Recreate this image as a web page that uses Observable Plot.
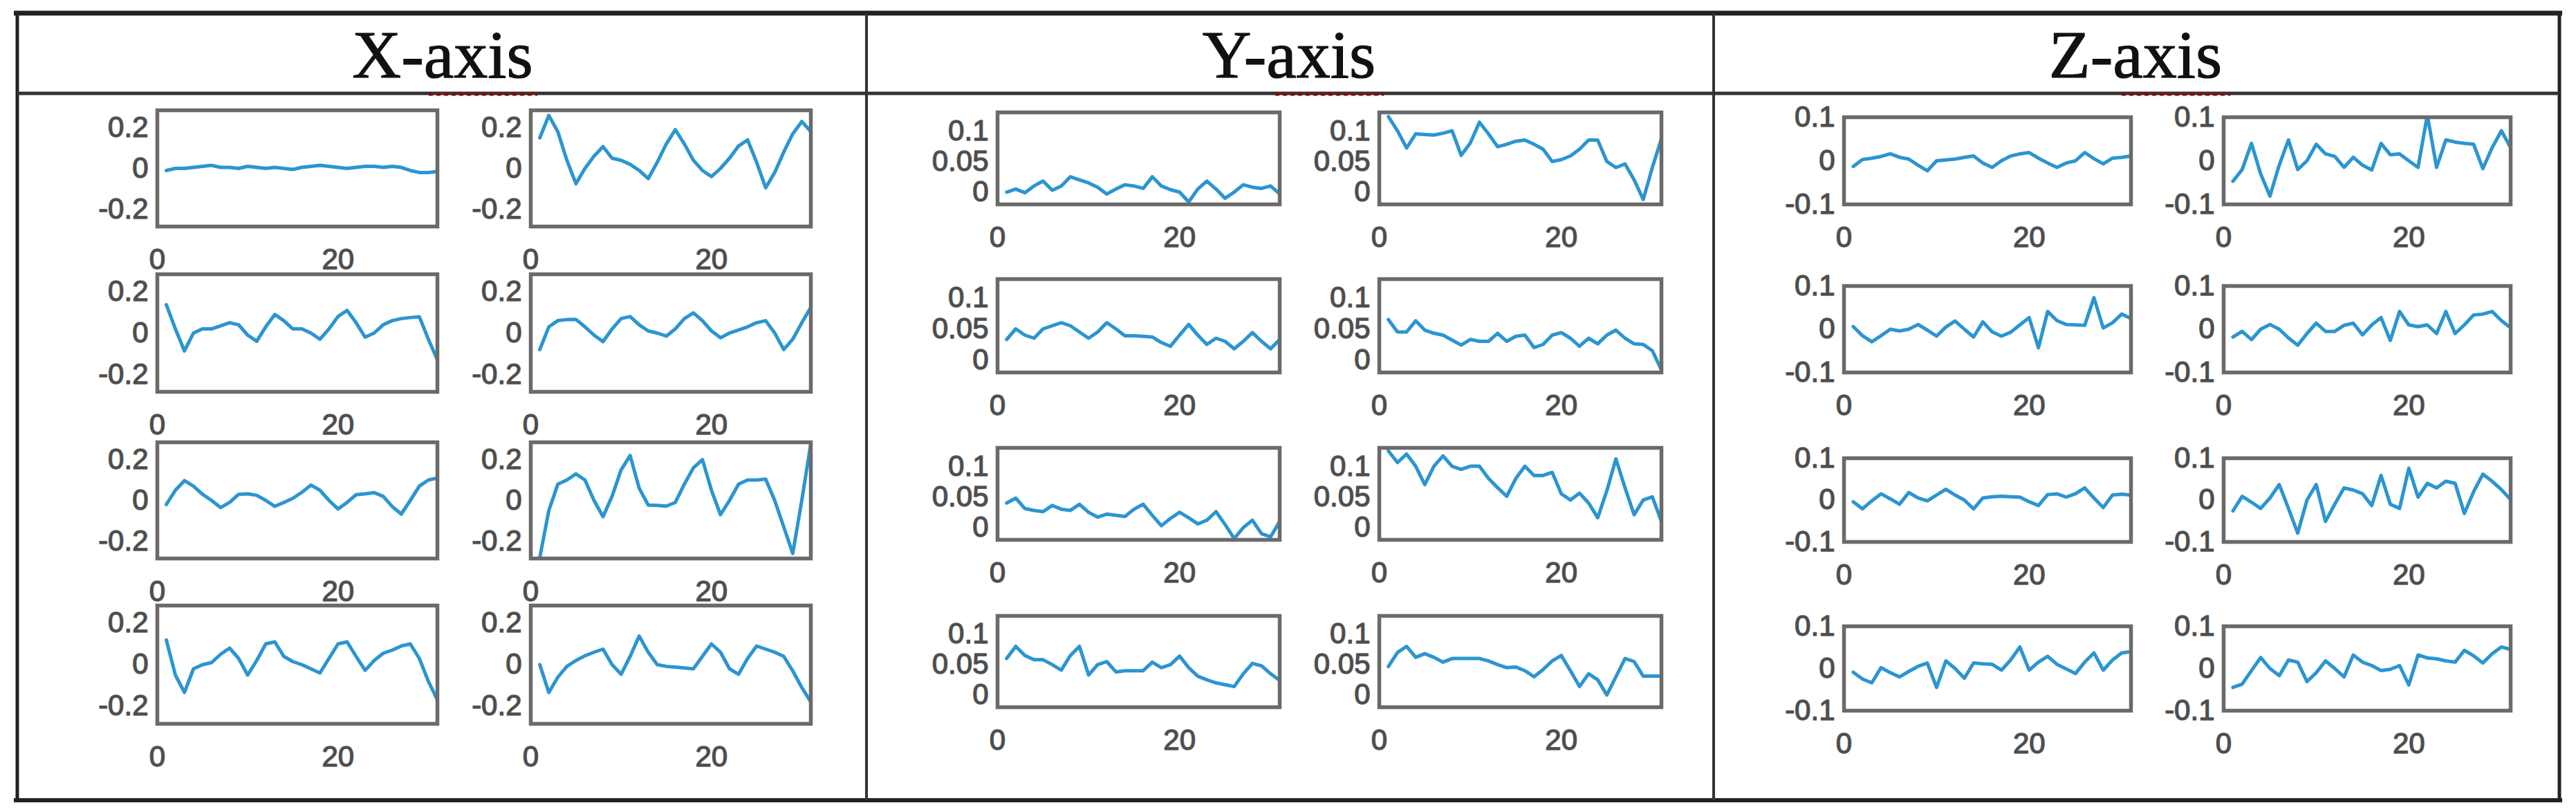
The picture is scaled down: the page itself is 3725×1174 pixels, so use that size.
<!DOCTYPE html>
<html>
<head>
<meta charset="utf-8">
<script src="https://cdn.jsdelivr.net/npm/d3@7"></script>
<script src="https://cdn.jsdelivr.net/npm/@observablehq/plot@0.6"></script>
<style>
  html, body { margin: 0; padding: 0; background: #fff; }
  #fig { position: relative; width: 3725px; height: 1174px; background: #fff; overflow: hidden; }
</style>
</head>
<body>
<div id="fig"></div>
<script>
// ---------------- data ----------------
const steps = [1,2,3,4,5,6,7,8,9,10,11,12,13,14,15,16,17,18,19,20,21,22,23,24,25,26,27,28,29,30,31];
const xTickValues = [0, 20];
const panelTitles = ["X-axis", "Y-axis", "Z-axis"];

const xAxisTicks = [-0.2, 0, 0.2];
const yAxisTicks = [0, 0.05, 0.1];
const zAxisTicks = [-0.1, 0, 0.1];

// X-axis panel (8 sub-plots, row by row, left then right)
const xSeries1 = [-0.01,0.0,0.0,0.005,0.01,0.015,0.005,0.005,0.0,0.01,0.005,0.0,0.005,0.0,-0.005,0.005,0.01,0.015,0.01,0.005,0.0,0.005,0.01,0.01,0.005,0.01,0.005,-0.01,-0.02,-0.02,-0.015];
const xSeries2 = [0.15,0.26,0.18,0.04,-0.075,0.0,0.06,0.107,0.05,0.04,0.02,-0.01,-0.05,0.03,0.12,0.19,0.12,0.04,-0.01,-0.04,0.0,0.05,0.11,0.14,0.03,-0.095,-0.02,0.08,0.17,0.23,0.18];
const xSeries3 = [0.137,0.02,-0.087,0.0,0.02,0.02,0.035,0.05,0.04,-0.01,-0.04,0.03,0.09,0.06,0.02,0.02,0.0,-0.03,0.02,0.08,0.11,0.05,-0.02,0.0,0.04,0.06,0.07,0.075,0.079,-0.03,-0.13];
const xSeries4 = [-0.08,0.03,0.06,0.065,0.066,0.03,-0.01,-0.042,0.02,0.07,0.08,0.04,0.01,0.0,-0.015,0.02,0.07,0.098,0.06,0.01,-0.023,0.0,0.015,0.03,0.05,0.06,0.0,-0.08,-0.03,0.05,0.124];
const xSeries5 = [-0.02,0.05,0.097,0.07,0.03,0.0,-0.035,-0.01,0.03,0.032,0.025,0.0,-0.029,-0.01,0.01,0.04,0.075,0.05,0.0,-0.042,-0.01,0.028,0.032,0.038,0.02,-0.03,-0.067,0.0,0.07,0.1,0.11];
const xSeries6 = [-0.28,-0.05,0.08,0.1,0.13,0.1,0.0,-0.08,0.02,0.15,0.22,0.06,-0.023,-0.025,-0.028,-0.01,0.08,0.16,0.2,0.05,-0.07,0.0,0.08,0.1,0.1,0.104,0.0,-0.13,-0.26,0.0,0.28];
const xSeries7 = [0.119,-0.05,-0.134,-0.02,0.0,0.01,0.05,0.08,0.03,-0.05,0.02,0.1,0.11,0.04,0.015,0.0,-0.02,-0.04,0.03,0.1,0.11,0.04,-0.027,0.02,0.055,0.07,0.09,0.1,0.03,-0.08,-0.17];
const xSeries8 = [0.0,-0.134,-0.06,-0.008,0.02,0.043,0.06,0.075,0.0,-0.046,0.04,0.138,0.06,0.0,-0.008,-0.012,-0.016,-0.02,0.04,0.1,0.06,-0.02,-0.046,0.03,0.09,0.075,0.06,0.04,-0.03,-0.11,-0.18];

// Y-axis panel
const ySeries1 = [0.0,0.005,-0.001,0.01,0.018,0.003,0.01,0.025,0.02,0.015,0.008,-0.003,0.005,0.012,0.01,0.006,0.025,0.01,0.004,0.0,-0.016,0.005,0.018,0.005,-0.01,0.0,0.012,0.008,0.006,0.01,-0.003];
const ySeries2 = [0.123,0.1,0.072,0.095,0.094,0.093,0.096,0.1,0.06,0.08,0.114,0.095,0.074,0.078,0.083,0.085,0.078,0.07,0.05,0.053,0.059,0.07,0.085,0.085,0.05,0.04,0.046,0.02,-0.012,0.04,0.087];
const ySeries3 = [0.033,0.05,0.04,0.035,0.05,0.055,0.06,0.055,0.045,0.035,0.045,0.06,0.05,0.039,0.039,0.038,0.037,0.028,0.022,0.04,0.057,0.04,0.025,0.035,0.03,0.018,0.03,0.044,0.03,0.018,0.033];
const ySeries4 = [0.065,0.045,0.045,0.063,0.048,0.043,0.04,0.032,0.024,0.033,0.03,0.03,0.043,0.03,0.038,0.04,0.02,0.025,0.04,0.044,0.035,0.022,0.035,0.026,0.04,0.048,0.035,0.026,0.025,0.015,-0.016];
const ySeries5 = [0.04,0.048,0.031,0.028,0.026,0.036,0.03,0.028,0.038,0.025,0.017,0.022,0.02,0.018,0.03,0.038,0.02,0.003,0.015,0.025,0.016,0.006,0.012,0.026,0.005,-0.018,0.0,0.012,-0.01,-0.015,0.01];
const ySeries6 = [0.125,0.106,0.12,0.1,0.07,0.1,0.117,0.1,0.095,0.1,0.1,0.08,0.065,0.051,0.08,0.1,0.085,0.085,0.09,0.055,0.045,0.056,0.04,0.016,0.06,0.112,0.065,0.021,0.045,0.05,0.01];
const ySeries7 = [0.06,0.08,0.065,0.058,0.058,0.05,0.041,0.065,0.08,0.033,0.05,0.055,0.038,0.04,0.04,0.04,0.054,0.045,0.05,0.064,0.045,0.031,0.025,0.02,0.017,0.014,0.035,0.052,0.048,0.035,0.024];
const ySeries8 = [0.047,0.07,0.08,0.062,0.068,0.062,0.054,0.06,0.06,0.06,0.06,0.056,0.05,0.045,0.046,0.04,0.03,0.042,0.056,0.065,0.04,0.014,0.035,0.025,0.0,0.03,0.06,0.055,0.031,0.031,0.031];

// Z-axis panel
const zSeries1 = [-0.013,0.003,0.006,0.01,0.016,0.008,0.004,-0.01,-0.023,0.0,0.002,0.004,0.008,0.011,-0.005,-0.015,0.0,0.011,0.016,0.019,0.006,-0.005,-0.015,-0.005,0.0,0.019,0.005,-0.007,0.006,0.008,0.011];
const zSeries2 = [-0.047,-0.02,0.04,-0.03,-0.081,-0.01,0.048,-0.02,0.0,0.038,0.016,0.01,-0.015,0.008,-0.01,-0.021,0.04,0.014,0.016,0.0,-0.015,0.105,-0.015,0.048,0.043,0.04,0.038,-0.018,0.03,0.069,0.03];
const zSeries3 = [0.006,-0.015,-0.029,-0.015,0.0,-0.004,0.0,0.011,-0.002,-0.016,0.005,0.019,0.0,-0.018,0.017,-0.006,-0.016,-0.007,0.01,0.027,-0.043,0.041,0.02,0.011,0.01,0.009,0.073,0.003,0.015,0.035,0.025];
const zSeries4 = [-0.018,-0.005,-0.024,0.0,0.011,0.0,-0.02,-0.037,-0.01,0.014,-0.005,-0.005,0.009,0.014,-0.013,0.01,0.027,-0.026,0.041,0.01,0.006,0.01,-0.01,0.041,-0.01,0.01,0.033,0.035,0.041,0.02,0.003];
const zSeries5 = [-0.004,-0.021,-0.002,0.015,0.003,-0.01,0.018,0.005,-0.002,0.012,0.026,0.012,0.0,-0.021,0.005,0.008,0.009,0.008,0.007,-0.004,-0.013,0.013,0.015,0.007,0.015,0.029,0.005,-0.018,0.012,0.014,0.012];
const zSeries6 = [-0.026,0.009,-0.005,-0.02,0.005,0.037,-0.02,-0.079,0.0,0.037,-0.051,-0.01,0.029,0.024,0.015,-0.013,0.059,-0.01,-0.02,0.076,0.007,0.04,0.029,0.045,0.04,-0.032,0.02,0.062,0.045,0.025,0.001];
const zSeries7 = [-0.009,-0.025,-0.034,0.002,-0.01,-0.02,-0.007,0.005,0.013,-0.045,0.018,0.0,-0.023,0.013,0.011,0.01,-0.004,0.02,0.051,-0.004,0.015,0.029,0.01,-0.001,-0.012,0.015,0.037,-0.004,0.02,0.037,0.04];
const zSeries8 = [-0.045,-0.037,-0.005,0.026,0.0,-0.017,0.02,0.015,-0.031,-0.01,0.018,0.0,-0.02,0.032,0.015,0.007,-0.005,-0.002,0.007,-0.039,0.032,0.025,0.023,0.018,0.015,0.043,0.03,0.013,0.035,0.051,0.045];

// ---------------- layout (positions / styles) ----------------
const panels = [
  { title: panelTitles[0], center: 640, series: [xSeries1,xSeries2,xSeries3,xSeries4,xSeries5,xSeries6,xSeries7,xSeries8],
    domain: [-0.285, 0.285], ticks: xAxisTicks, lefts: [227, 767], width: 405,
    rows: [[159,327],[396,566],[639,807],[875,1046]] },
  { title: panelTitles[1], center: 1864, series: [ySeries1,ySeries2,ySeries3,ySeries4,ySeries5,ySeries6,ySeries7,ySeries8],
    domain: [-0.02, 0.13], ticks: yAxisTicks, lefts: [1442, 1994], width: 408,
    rows: [[162,295],[403,538],[647,780],[890,1022]] },
  { title: panelTitles[2], center: 3088, series: [zSeries1,zSeries2,zSeries3,zSeries4,zSeries5,zSeries6,zSeries7,zSeries8],
    domain: [-0.1, 0.1], ticks: zAxisTicks, lefts: [2666, 3215], width: 415,
    rows: [[169,295],[413,538],[662,783],[905,1027]] }
];

const fig = document.getElementById("fig");

// table chrome: borders, header rule, column rules, titles
const chrome = d3.create("svg")
  .attr("width", 3725).attr("height", 1174)
  .style("position", "absolute").style("left", "0px").style("top", "0px");
const ink = "#222";
chrome.append("line").attr("x1", 20).attr("x2", 3705).attr("y1", 19).attr("y2", 19).attr("stroke", ink).attr("stroke-width", 7);
chrome.append("line").attr("x1", 20).attr("x2", 3705).attr("y1", 1157).attr("y2", 1157).attr("stroke", ink).attr("stroke-width", 6);
chrome.append("line").attr("x1", 25).attr("x2", 25).attr("y1", 16).attr("y2", 1160).attr("stroke", ink).attr("stroke-width", 5);
chrome.append("line").attr("x1", 3701).attr("x2", 3701).attr("y1", 16).attr("y2", 1160).attr("stroke", ink).attr("stroke-width", 5);
chrome.append("line").attr("x1", 25).attr("x2", 3701).attr("y1", 135).attr("y2", 135).attr("stroke", "#333").attr("stroke-width", 5);
for (const xr of [1253, 2478]) {
  chrome.append("line").attr("x1", xr).attr("x2", xr).attr("y1", 19).attr("y2", 1157).attr("stroke", "#333").attr("stroke-width", 4);
}
for (const p of panels) {
  chrome.append("text").attr("x", p.center).attr("y", 112).attr("text-anchor", "middle")
    .attr("font-family", "'Liberation Serif', 'Times New Roman', serif").attr("font-size", 98)
    .attr("fill", "#111").attr("stroke", "#111").attr("stroke-width", 1.2).text(p.title);
  chrome.append("line").attr("x1", p.center - 20).attr("x2", p.center + 137).attr("y1", 136).attr("y2", 136)
    .attr("stroke", "#7a0f0f").attr("stroke-width", 5).attr("stroke-dasharray", "6,5");
}
fig.appendChild(chrome.node());

// sub-plots
const mL = 130, mR = 20, mT = 30, mB = 90;
for (const p of panels) {
  p.series.forEach((vals, k) => {
    const r = Math.floor(k / 2), c = k % 2;
    const [top, bottom] = p.rows[r];
    const h = bottom - top, w = p.width;
    const table = steps.map((s, i) => ({ step: s, value: vals[i] }));
    const svg = Plot.plot({
      width: mL + w + mR, height: mT + h + mB,
      marginLeft: mL, marginRight: mR, marginTop: mT, marginBottom: mB,
      x: { domain: [0, 31] },
      y: { domain: p.domain },
      style: { background: "transparent", color: "#4d4d4d", fontFamily: "'Liberation Sans', Arial, sans-serif", overflow: "visible" },
      marks: [
        Plot.axisX({ ticks: xTickValues, tickSize: 0, tickPadding: 32, fontSize: 42, label: null,
                     textStroke: "#6a6a6a", textStrokeWidth: 1.5, tickFormat: d => String(d) }),
        Plot.axisY({ ticks: p.ticks, tickSize: 0, tickPadding: 13, fontSize: 42, label: null,
                     textStroke: "#6a6a6a", textStrokeWidth: 1.5, tickFormat: d => String(d) }),
        Plot.line(table, { x: "step", y: "value", stroke: "#2b95d0", strokeWidth: 5, strokeLinejoin: "round", clip: true }),
        Plot.frame({ stroke: "#6a6a6a", strokeWidth: 5.5 })
      ]
    });
    svg.style.position = "absolute";
    svg.style.left = (p.lefts[c] - mL) + "px";
    svg.style.top = (top - mT) + "px";
    fig.appendChild(svg);
  });
}
</script>
</body>
</html>
